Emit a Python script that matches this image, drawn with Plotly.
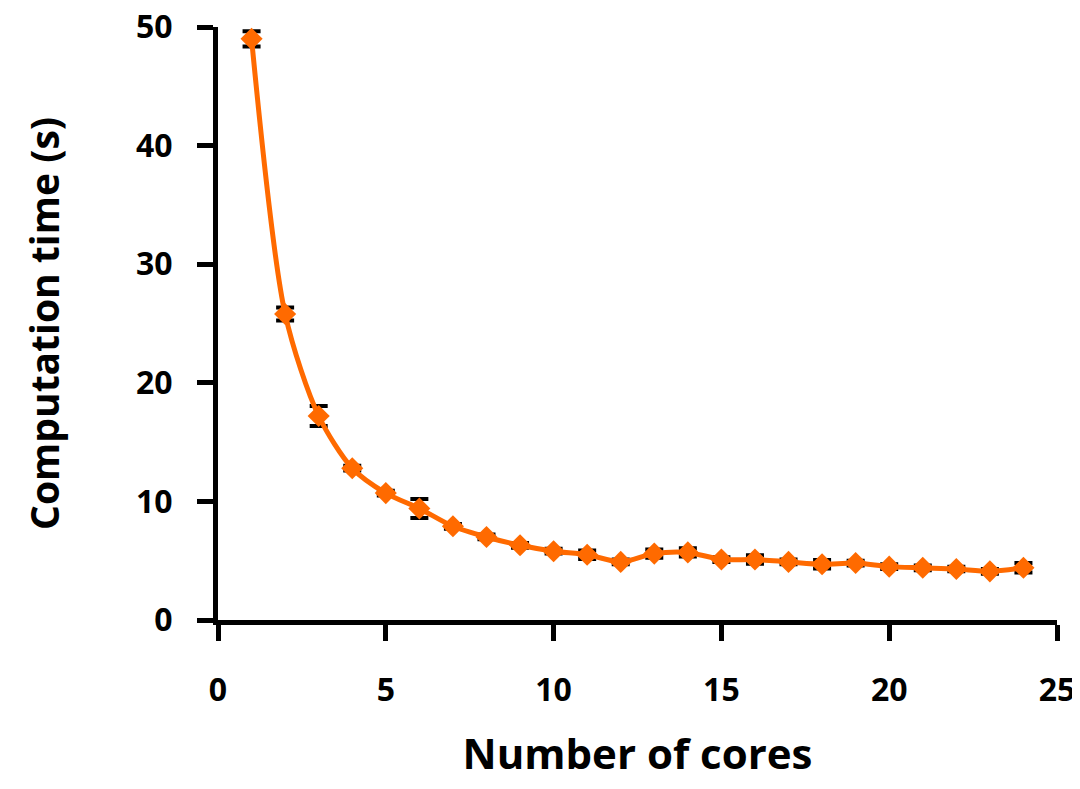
import plotly.graph_objects as go

cores = list(range(1, 25))
times = [49.0, 25.8, 17.2, 12.8, 10.7, 9.4, 7.9, 7.0, 6.3, 5.8, 5.5, 4.9,
         5.6, 5.7, 5.1, 5.1, 4.9, 4.7, 4.8, 4.5, 4.4, 4.3, 4.1, 4.4]
errors = [0.65, 0.55, 0.85, 0.2, 0.2, 0.8, 0.2, 0.2, 0.2, 0.2, 0.35, 0.2,
          0.35, 0.35, 0.2, 0.35, 0.2, 0.35, 0.2, 0.2, 0.2, 0.2, 0.2, 0.4]
x_ticks = [0, 5, 10, 15, 20, 25]
y_ticks = [0, 10, 20, 30, 40, 50]

orange = "#FF6A00"
font_family = "Open Sans, Lato, sans-serif"

fig = go.Figure()
fig.add_trace(go.Scatter(
    x=cores, y=times,
    mode="lines+markers",
    line=dict(color=orange, width=5, shape="spline", smoothing=0.8),
    marker=dict(symbol="diamond", size=17, color=orange),
    error_y=dict(type="data", array=errors, visible=True,
                 color="black", thickness=4, width=9),
    showlegend=False,
))

fig.update_layout(
    width=1072, height=773,
    paper_bgcolor="white", plot_bgcolor="white",
    margin=dict(l=210, r=23, t=19, b=161, autoexpand=False),
    font=dict(family=font_family, color="black"),
)
fig.update_xaxes(
    range=[0, 25], tickvals=x_ticks, ticktext=[str(v) for v in x_ticks],
    showgrid=False, zeroline=False, automargin=False,
    showline=True, linecolor="black", linewidth=5,
    ticks="outside", ticklen=16, tickwidth=5, tickcolor="black",
    tickfont=dict(size=32, family=font_family, weight="bold"),
    ticklabelstandoff=22, ticklabeloverflow="allow",
    title=dict(text="Number of cores",
               font=dict(size=42, family=font_family, weight="bold"),
               standoff=62),
)
fig.update_yaxes(
    range=[0, 50], tickvals=y_ticks, ticktext=[str(v) for v in y_ticks],
    showgrid=False, zeroline=False, automargin=False,
    showline=True, linecolor="black", linewidth=5,
    ticks="outside", ticklen=16, tickwidth=5, tickcolor="black",
    tickfont=dict(size=32, family=font_family, weight="bold"),
    ticklabelstandoff=18, ticklabeloverflow="allow",
    title=dict(text="Computation time (s)",
               font=dict(size=39, family=font_family, weight="bold"),
               standoff=66),
)

fig.write_html("out.html")
